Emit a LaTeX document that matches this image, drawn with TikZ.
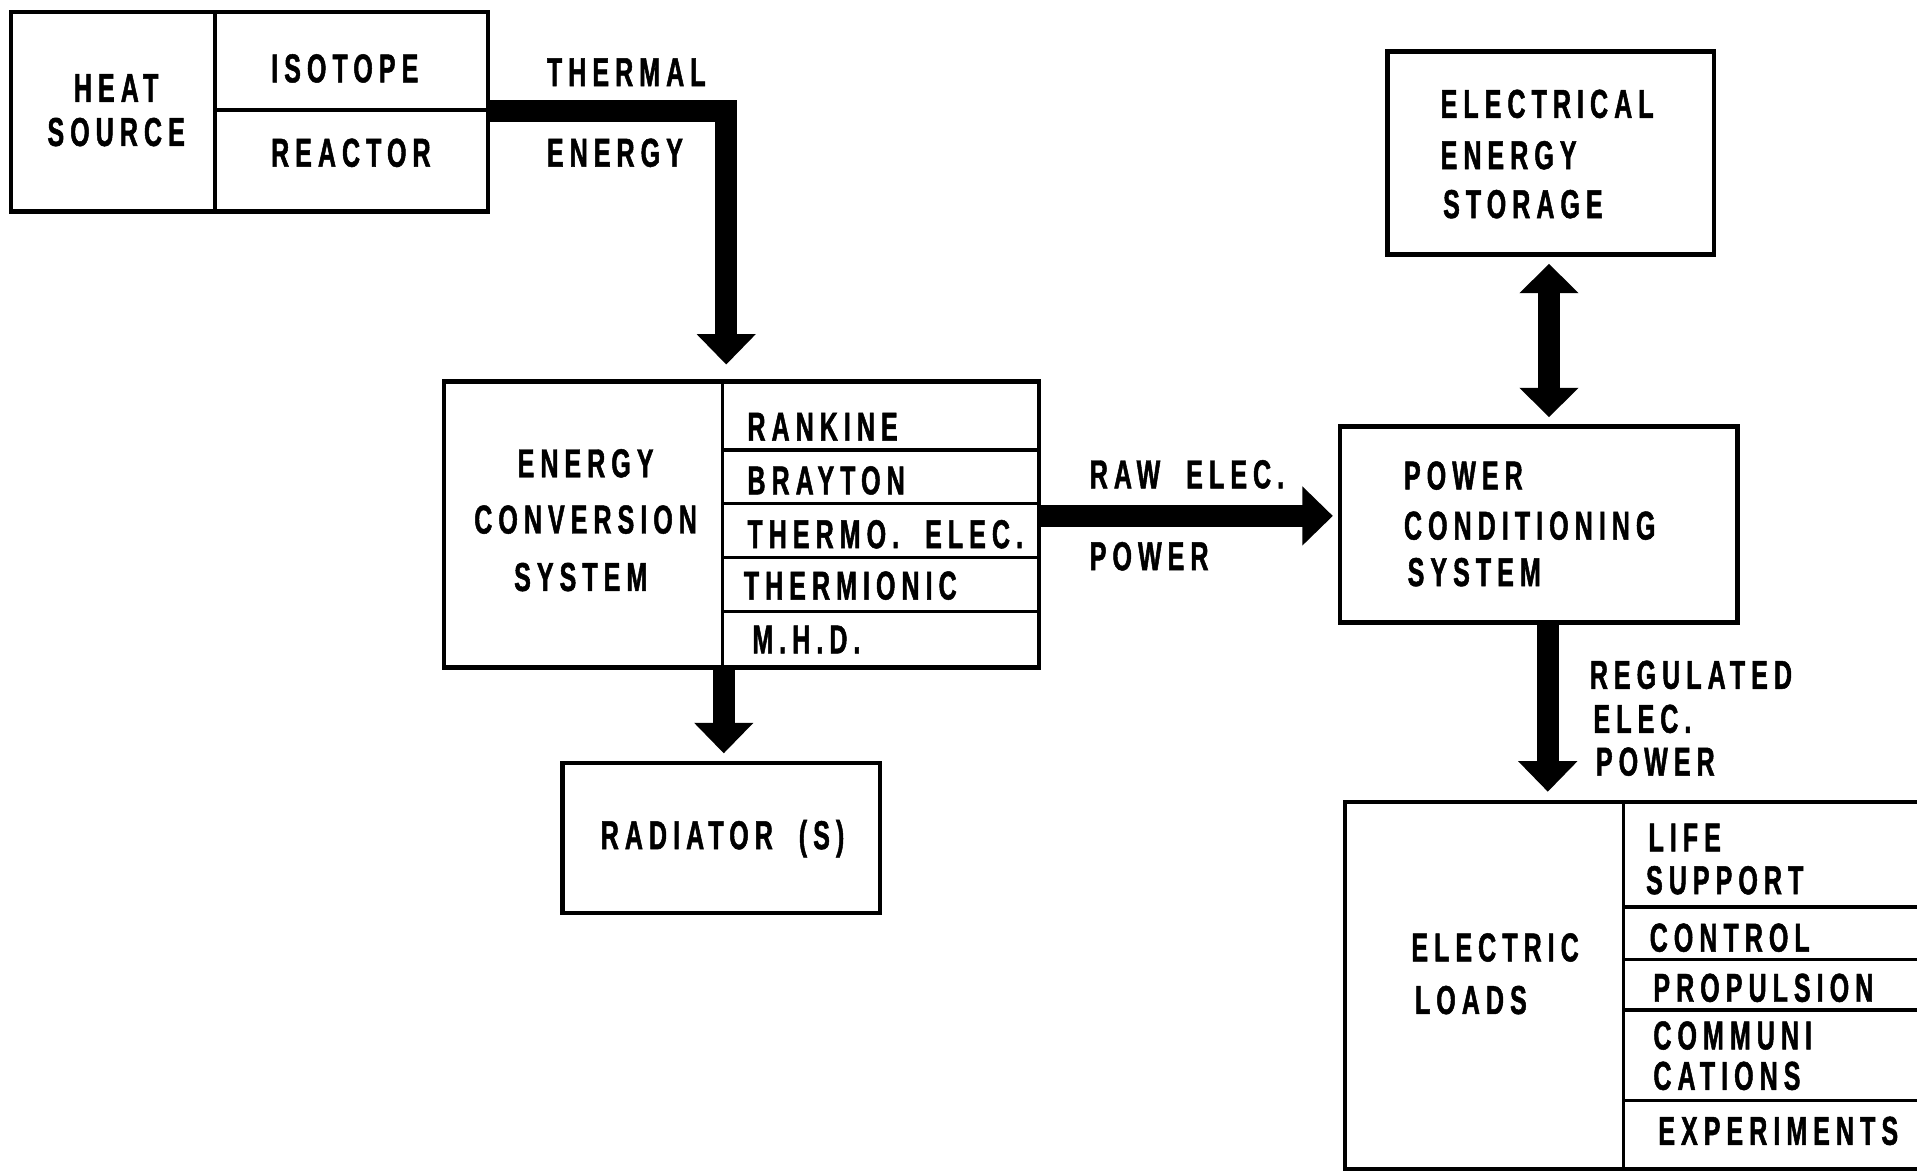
\documentclass[tikz,border=0pt]{standalone}
\usepackage{fontspec}
\newfontfamily\lbl{Liberation Sans}[FakeStretch=0.62,LetterSpace=15,FakeBold=1.2]
\usetikzlibrary{arrows.meta,fit}
\begin{document}
\begin{tikzpicture}[x=0.5pt,y=-0.5pt,
  box/.style={draw,line width=1.8pt,inner sep=0pt},
  div/.style={line width=1.4pt},
  fat/.style={line width=9pt,-{Triangle[width=23.5pt,length=12.5pt]}},
  fatboth/.style={line width=9pt,{Triangle[width=23.5pt,length=12pt]}-{Triangle[width=23.5pt,length=12pt]}},
  lab/.style={font=\lbl\bfseries\fontsize{16.5}{18}\selectfont,inner sep=0pt},
  labl/.style={lab,anchor=west}]
\fill[white] (0,0) rectangle (1568,959);
\useasboundingbox (0,0) rectangle (1568,959);

% helper coordinates
\coordinate (thy) at (0,91);
\coordinate (tx) at (594,0);
\coordinate (rx) at (592,0);
\coordinate (ry) at (0,422);
\coordinate (dx) at (1267,0);
\coordinate (gx) at (1266,0);

% heat source
\node[box,fit={(9,10)(399,173)}] (hs) {};
\draw[div] (176,10) -- (176,173);
\draw[div] (176,90) -- (399,90);
\node[lab] (heat) at (95,72) {HEAT};
\node[lab] (source) at (95,108) {SOURCE};
\node[lab] (iso) at (282,56) {ISOTOPE};
\node[lab] (reac) at (287,125) {REACTOR};

% energy conversion system
\node[box,fit={(363,312)(850,546)}] (ecs) {};
\draw[div] (591,312) -- (591,546);
\foreach \yy in {368,412,456,500} \draw[div] (591,\yy) -- (850,\yy);
\node[lab] (ecs1) at (479,379) {ENERGY};
\node[lab] (ecs2) at (479,425) {CONVERSION};
\node[lab] (ecs3) at (475,472) {SYSTEM};
\node[labl] (rank) at (611,349) {RANKINE};
\node[labl] (bray) at (611,393) {BRAYTON};
\node[labl] (thel) at (611,437) {THERMO.\ \ ELEC.};
\node[labl] (thion) at (608,479) {THERMIONIC};
\node[labl] (mhd) at (615,523) {M.H.D.};

% radiator
\node[box,fit={(460,624)(720,747)}] (rad) {};
\node[lab] (radt) at (591,686) {RADIATOR\ \ (S)};

% electrical energy storage
\node[box,fit={(1135,42)(1402,208)}] (ees) {};
\node[labl] (ees1) at (1178,85) {ELECTRICAL};
\node[labl] (ees2) at (1178,127) {ENERGY};
\node[labl] (ees3) at (1180,167) {STORAGE};

% power conditioning
\node[box,fit={(1096,349)(1421,509)}] (pcs) {};
\node[labl] (pcs1) at (1148,389) {POWER};
\node[labl] (pcs2) at (1148,430) {CONDITIONING};
\node[labl] (pcs3) at (1151,468) {SYSTEM};

% electric loads
\node[inner sep=0pt,fit={(1100,656)(1568,956)}] (loads) {};
\draw[line width=1.8pt] (1568,656) -- (1100,656) -- (1100,956) -- (1568,956);
\draw[div] (1328,656) -- (1328,956);
\foreach \yy in {742,785,826,900} \draw[div] (1328,\yy) -- (1568,\yy);
\node[labl] (el1) at (1154,775) {ELECTRIC};
\node[labl] (el2) at (1157,818) {LOADS};
\node[labl] (life) at (1348,685) {LIFE};
\node[labl] (supp) at (1346,720) {SUPPORT};
\node[labl] (ctrl) at (1349,767) {CONTROL};
\node[labl] (prop) at (1352,808) {PROPULSION};
\node[labl] (comm) at (1352,847) {COMMUNI};
\node[labl] (cat) at (1352,880) {CATIONS};
\node[labl] (exp) at (1356,925) {EXPERIMENTS};

% connector labels
\node[labl] (th1) at (447,59) {THERMAL};
\node[labl] (th2) at (447,125) {ENERGY};
\node[labl] (raw1) at (891,388) {RAW\ \ ELEC.};
\node[labl] (raw2) at (891,455) {POWER};
\node[labl] (reg1) at (1300,552) {REGULATED};
\node[labl] (reg2) at (1303,588) {ELEC.};
\node[labl] (reg3) at (1305,623) {POWER};

% connectors
\draw[fat,shorten >=6pt] (hs.east |- thy) -| (ecs.north -| tx);
\draw[fat,shorten >=3pt] (ecs.south -| rx) -- (rad.north -| rx);
\draw[fat,shorten >=2pt] (ecs.east |- ry) -- (pcs.west |- ry);
\draw[fatboth,shorten <=3pt,shorten >=3pt] (ees.south -| dx) -- (pcs.north -| dx);
\draw[fat,shorten >=4pt] (pcs.south -| gx) -- (loads.north -| gx);
\end{tikzpicture}
\end{document}
